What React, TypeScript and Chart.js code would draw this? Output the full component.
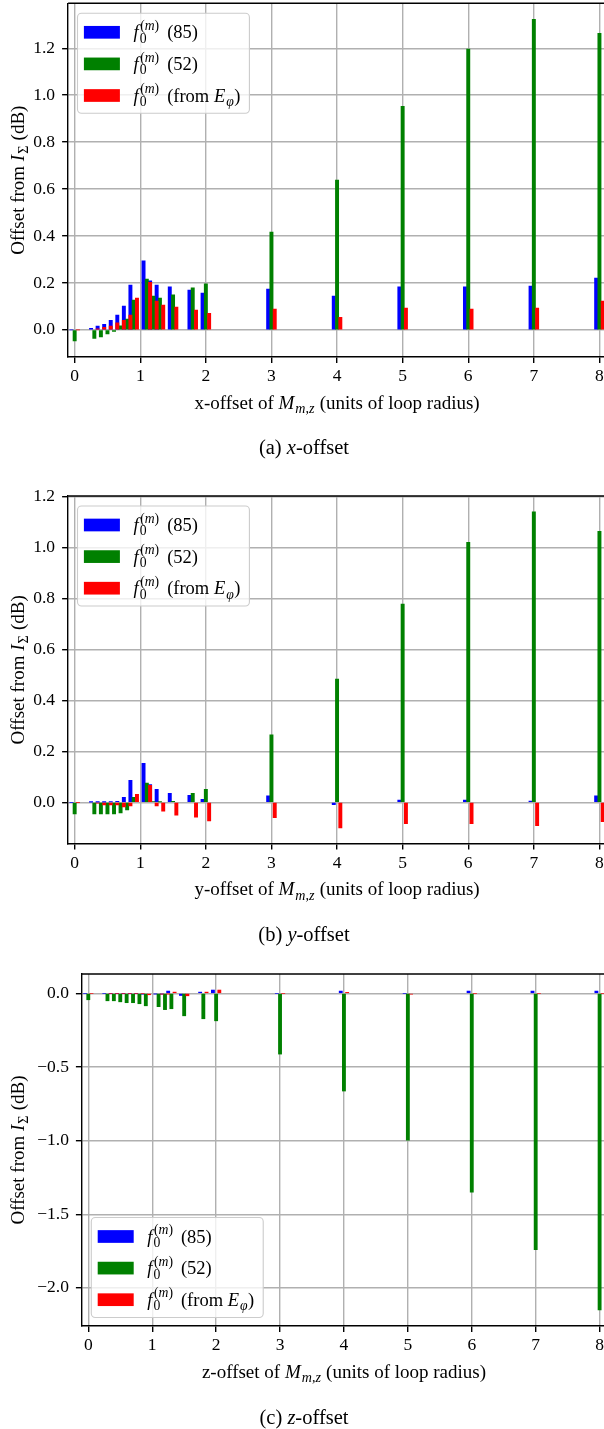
import React, { useEffect, useRef } from 'react';
import { Chart, registerables } from 'chart.js';

Chart.register(...registerables);

const FONT = '"Liberation Serif", "Times New Roman", serif';

// ---------- data ----------
const offsets = [0, 0.3, 0.4, 0.5, 0.6, 0.7, 0.8, 0.9, 1.1, 1.2, 1.3, 1.5, 1.8, 2, 3, 4, 5, 6, 7, 8];
const xTickValues = [0, 1, 2, 3, 4, 5, 6, 7, 8];
const seriesNames = ['f0(m) (85)', 'f0(m) (52)', 'f0(m) (from E_phi)'];

// (a) x-offset
const xOff85 = [0, 0.007, 0.016, 0.024, 0.041, 0.063, 0.101, 0.191, 0.294, 0.209, 0.191, 0.183, 0.17, 0.157, 0.174, 0.144, 0.183, 0.183, 0.187, 0.221];
const xOff52 = [-0.047, -0.036, -0.03, -0.017, -0.006, 0.017, 0.046, 0.127, 0.217, 0.144, 0.136, 0.149, 0.179, 0.196, 0.417, 0.638, 0.953, 1.196, 1.323, 1.264];
const xOffEphi = [0, 0.005, 0.011, 0.016, 0.03, 0.041, 0.063, 0.136, 0.203, 0.123, 0.106, 0.097, 0.084, 0.071, 0.089, 0.054, 0.093, 0.089, 0.093, 0.123];

// (b) y-offset
const yOff85 = [0, 0.001, 0.001, 0.001, 0.002, 0.004, 0.02, 0.086, 0.153, 0.07, 0.051, 0.035, 0.027, 0.012, 0.025, -0.009, 0.009, 0.009, 0.005, 0.025];
const yOff52 = [-0.046, -0.046, -0.046, -0.046, -0.046, -0.042, -0.03, 0.02, 0.075, 0.003, 0.002, 0.004, 0.035, 0.051, 0.265, 0.484, 0.778, 1.02, 1.14, 1.063];
const yOffEphi = [0, -0.003, -0.01, -0.01, -0.01, -0.018, -0.014, 0.031, 0.067, -0.014, -0.035, -0.05, -0.058, -0.073, -0.06, -0.1, -0.084, -0.084, -0.092, -0.076];

// (c) z-offset
const zOff85 = [0, 0, 0, 0, 0, 0, 0, -0.005, -0.003, -0.004, 0.016, -0.014, 0.009, 0.023, 0, 0.016, 0, 0.016, 0.016, 0.016];
const zOff52 = [-0.043, -0.05, -0.05, -0.057, -0.063, -0.063, -0.07, -0.084, -0.09, -0.11, -0.104, -0.152, -0.172, -0.186, -0.412, -0.663, -0.996, -1.35, -1.74, -2.15];
const zOffEphi = [0, 0, 0, 0, 0, 0, 0, -0.009, -0.004, -0.003, 0.009, -0.016, 0.009, 0.023, 0, 0.007, -0.005, 0, 0, 0];

const yTicksA = [0, 0.2, 0.4, 0.6, 0.8, 1.0, 1.2];
const yTicksB = [0, 0.2, 0.4, 0.6, 0.8, 1.0, 1.2];
const yTicksC = [-2, -1.5, -1, -0.5, 0];

// ---------- style ----------
const COLORS = ['#0000ff', '#008000', '#ff0000'];
const CW = 606;
const X_MIN = -0.1;
const X_MAX = 8.1;
const BAR_W = 0.05;
const GRID = '#b0b0b0';
const LW = 1.4;

type Run = { t: string; it?: boolean };
type Tok = Run | { sub?: Run[]; sup?: Run[] } | { gap: number };

function fnt(size: number, it?: boolean) {
  return `${it ? 'italic ' : ''}${size}px ${FONT}`;
}
function runsWidth(ctx: CanvasRenderingContext2D, runs: Run[], size: number) {
  let w = 0;
  for (const r of runs) {
    ctx.font = fnt(size, r.it);
    w += ctx.measureText(r.t).width;
  }
  return w;
}
function drawRuns(ctx: CanvasRenderingContext2D, runs: Run[], x: number, y: number, size: number) {
  let cx = x;
  for (const r of runs) {
    ctx.font = fnt(size, r.it);
    ctx.fillText(r.t, cx, y);
    cx += ctx.measureText(r.t).width;
  }
}
function drawRich(ctx: CanvasRenderingContext2D, toks: Tok[], x: number, y: number, size: number, draw = true) {
  let cx = x;
  for (const tk of toks as any[]) {
    if ('t' in tk) {
      ctx.font = fnt(size, tk.it);
      if (draw) ctx.fillText(tk.t, cx, y);
      cx += ctx.measureText(tk.t).width;
    } else if ('gap' in tk) {
      cx += tk.gap;
    } else {
      const s = size * 0.74;
      const ws = tk.sub ? runsWidth(ctx, tk.sub, s) : 0;
      const wp = tk.sup ? runsWidth(ctx, tk.sup, s) : 0;
      if (draw) {
        if (tk.sub) drawRuns(ctx, tk.sub, cx + 1, y + size * 0.24, s);
        if (tk.sup) drawRuns(ctx, tk.sup, cx + 1.5, y - size * 0.45, s);
      }
      cx += Math.max(ws, wp) + 1.5;
    }
  }
  return cx - x;
}

const f0m: Tok[] = [{ t: 'f', it: true }, { sub: [{ t: '0' }], sup: [{ t: '(' }, { t: 'm', it: true }, { t: ')' }] }, { gap: 8 }];
const legendRows: Tok[][] = [
  [...f0m, { t: '(85)' }],
  [...f0m, { t: '(52)' }],
  [...f0m, { t: '(from ' }, { t: 'E', it: true }, { sub: [{ t: 'φ', it: true }] }, { t: ')' }],
];
const yTitle: Tok[] = [{ t: 'Offset from ' }, { t: 'I', it: true }, { sub: [{ t: 'Σ' }] }, { t: ' (dB)' }];
const xTitle = (letter: string): Tok[] => [
  { t: `${letter}-offset of ` },
  { t: 'M', it: true },
  { sub: [{ t: 'm', it: true }, { t: ',' }, { t: 'z', it: true }] },
  { t: ' (units of loop radius)' },
];

function roundRectPath(ctx: CanvasRenderingContext2D, x: number, y: number, w: number, h: number, r: number) {
  ctx.beginPath();
  ctx.moveTo(x + r, y);
  ctx.lineTo(x + w - r, y);
  ctx.arcTo(x + w, y, x + w, y + r, r);
  ctx.lineTo(x + w, y + h - r);
  ctx.arcTo(x + w, y + h, x + w - r, y + h, r);
  ctx.lineTo(x + r, y + h);
  ctx.arcTo(x, y + h, x, y + h - r, r);
  ctx.lineTo(x, y + r);
  ctx.arcTo(x, y, x + r, y, r);
  ctx.closePath();
}

type PanelCfg = {
  letter: string;
  vals: number[][];
  yMin: number;
  yMax: number;
  yTicks: number[];
  axTop: number;
  axBottom: number;
  axLeft: number;
  legend: 'upper' | 'lower';
};

const panels: PanelCfg[] = [
  { letter: 'x', vals: [xOff85, xOff52, xOffEphi], yMin: -0.1155, yMax: 1.3915, yTicks: yTicksA, axTop: 3.3, axBottom: 357, axLeft: 68.1, legend: 'upper' },
  { letter: 'y', vals: [yOff85, yOff52, yOffEphi], yMin: -0.162, yMax: 1.202, yTicks: yTicksB, axTop: 496, axBottom: 843.6, axLeft: 68.1, legend: 'upper' },
  { letter: 'z', vals: [zOff85, zOff52, zOffEphi], yMin: -2.259, yMax: 0.132, yTicks: yTicksC, axTop: 974, axBottom: 1326, axLeft: 81.9, legend: 'lower' },
];
const captions = [
  { tag: 'a', axis: 'x', y: 447 },
  { tag: 'b', axis: 'y', y: 934 },
  { tag: 'c', axis: 'z', y: 1417 },
];

const fmtY = (v: number) => (v < 0 ? '\u2212' : '') + Math.abs(v).toFixed(1);

function Panel({ cfg }: { cfg: PanelCfg }) {
  const ref = useRef<HTMLCanvasElement>(null);
  const canvasTop = Math.round(cfg.axTop) - 14;
  const padTop = cfg.axTop - canvasTop;
  const plotH = cfg.axBottom - cfg.axTop;
  const H = Math.round(padTop + plotH + 80);
  const xAxisH = H - padTop - plotH;

  useEffect(() => {
    const pxPerUnit = (CW - cfg.axLeft) / (X_MAX - X_MIN);
    const thick = BAR_W * pxPerUnit;
    const decor = {
      id: 'decor',
      afterDraw(chart: any) {
        const { ctx, chartArea: a } = chart;
        ctx.save();
        ctx.strokeStyle = '#000';
        ctx.lineWidth = LW;
        ctx.beginPath();
        ctx.moveTo(a.left, a.top);
        ctx.lineTo(a.right, a.top);
        ctx.stroke();
        ctx.fillStyle = '#000';
        ctx.textBaseline = 'alphabetic';
        ctx.textAlign = 'left';
        const tS = 19;
        const xt = xTitle(cfg.letter);
        const xw = drawRich(ctx, xt, 0, 0, tS, false);
        drawRich(ctx, xt, (a.left + a.right) / 2 - xw / 2, a.bottom + 45.5 + tS * 0.32, tS);
        ctx.save();
        ctx.translate(17.5, (a.top + a.bottom) / 2);
        ctx.rotate(-Math.PI / 2);
        const yw = drawRich(ctx, yTitle, 0, 0, tS, false);
        drawRich(ctx, yTitle, -yw / 2, tS * 0.32, tS);
        ctx.restore();
        // legend
        const lS = 18.5;
        const tw = Math.max(...legendRows.map((r) => drawRich(ctx, r, 0, 0, lS, false)));
        const boxW = 56 + tw + 9;
        const boxH = 100;
        const bx = a.left + 9.4;
        const by = cfg.legend === 'upper' ? a.top + 10 : a.bottom - 8.5 - boxH;
        roundRectPath(ctx, bx, by, boxW, boxH, 4);
        ctx.fillStyle = 'rgba(255,255,255,0.8)';
        ctx.fill();
        ctx.strokeStyle = '#cccccc';
        ctx.lineWidth = 1.1;
        ctx.stroke();
        legendRows.forEach((r, i) => {
          const cy = by + 19 + i * 31.6;
          ctx.fillStyle = COLORS[i];
          ctx.fillRect(bx + 6.4, cy - 6.35, 36, 12.7);
          ctx.fillStyle = '#000';
          drawRich(ctx, r, bx + 56, cy + 6, lS);
        });
        ctx.restore();
      },
    };

    const chart = new Chart(ref.current as HTMLCanvasElement, {
      type: 'bar',
      data: {
        datasets: cfg.vals.map((vals, i) => ({
          label: seriesNames[i],
          data: offsets.map((x, j) => ({ x: x + (i - 1) * BAR_W, y: vals[j] })),
          backgroundColor: COLORS[i],
          borderWidth: 0,
          grouped: false,
          barThickness: thick,
          order: 3 - i,
        })),
      } as any,
      options: {
        responsive: false,
        animation: false,
        devicePixelRatio: 1,
        layout: { padding: { top: padTop, left: 0, right: 0, bottom: 0 } },
        plugins: { legend: { display: false }, tooltip: { enabled: false }, title: { display: false } },
        scales: {
          x: {
            type: 'linear',
            min: X_MIN,
            max: X_MAX,
            offset: false,
            z: 1,
            afterBuildTicks: (s: any) => {
              s.ticks = xTickValues.map((v) => ({ value: v }));
            },
            afterFit: (s: any) => {
              s.height = xAxisH;
              s.paddingLeft = 0;
              s.paddingRight = 0;
            },
            grid: { offset: false, color: GRID, lineWidth: LW, tickColor: '#000', tickLength: 6, tickWidth: LW },
            border: { color: '#000', width: LW },
            ticks: {
              color: '#000',
              font: { family: FONT, size: 17.5 },
              padding: 3,
              maxRotation: 0,
              autoSkip: false,
              callback: (v: any) => String(v),
            },
          },
          y: {
            type: 'linear',
            min: cfg.yMin,
            max: cfg.yMax,
            z: 1,
            afterBuildTicks: (s: any) => {
              s.ticks = cfg.yTicks.map((v) => ({ value: v }));
            },
            afterFit: (s: any) => {
              s.width = cfg.axLeft;
              s.paddingTop = 0;
              s.paddingBottom = 0;
            },
            grid: { color: GRID, lineWidth: LW, tickColor: '#000', tickLength: 6, tickWidth: LW },
            border: { color: '#000', width: LW },
            ticks: {
              color: '#000',
              font: { family: FONT, size: 17.5 },
              padding: 7,
              autoSkip: false,
              callback: (v: any) => fmtY(Number(v)),
            },
          },
        },
      } as any,
      plugins: [decor],
    });
    return () => chart.destroy();
  }, []);

  return (
    <canvas
      ref={ref}
      width={CW}
      height={H}
      style={{ position: 'absolute', left: 0, top: canvasTop, width: CW, height: H, display: 'block' }}
    />
  );
}

export default function App() {
  return (
    <div style={{ position: 'absolute', left: 0, top: 0, width: 604, height: 1429, overflow: 'hidden', background: '#fff' }}>
      {panels.map((p) => (
        <Panel key={p.letter} cfg={p} />
      ))}
      {captions.map((c) => (
        <div
          key={c.tag}
          style={{
            position: 'absolute',
            left: 0,
            width: 608,
            top: c.y - 12,
            height: 24,
            lineHeight: '24px',
            textAlign: 'center',
            fontFamily: FONT,
            fontSize: 20.5,
            color: '#000',
          }}
        >
          ({c.tag}) <i>{c.axis}</i>-offset
        </div>
      ))}
    </div>
  );
}
